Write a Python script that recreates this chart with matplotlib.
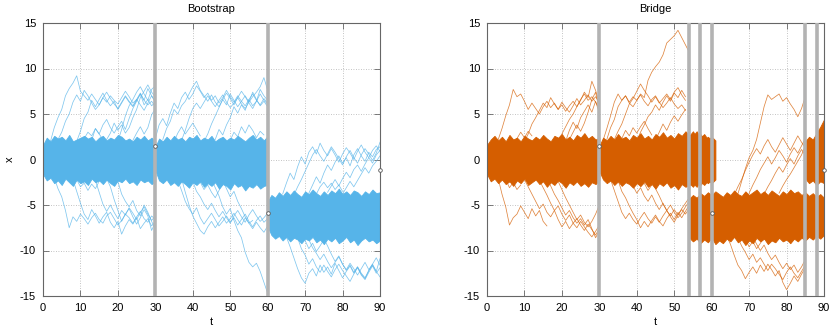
import numpy as np
import matplotlib
matplotlib.use("Agg")
import matplotlib.pyplot as plt

plt.rcParams['font.family'] = ['Liberation Sans', 'DejaVu Sans']
plt.rcParams['axes.unicode_minus'] = False

# colours
c_boot = '#56B4E9'
c_bridge = '#D55E00'

# observations and resampling times
obs_t = [30, 60, 90]
obs_x = [1.5, -5.9, -1.2]
boot_resample = [30, 60]
bridge_resample = [30, 54, 57, 60, 85, 88]

# ---- Bootstrap: dense band edges (one value per unit of t) ----
boot_a_t0 = 0
boot_a_hi = [1.6, 2.4, 2.0, 2.6, 2.3, 2.5, 2.1, 2.7, 2.0, 2.2, 2.4, 2.6, 2.3, 2.5, 2.0, 2.4,
             2.6, 2.1, 2.4, 2.2, 2.7, 2.5, 2.1, 2.3, 2.0, 2.5, 2.2, 2.6, 2.1, 2.4, 1.9]
boot_a_lo = [-1.6, -2.3, -2.0, -2.6, -2.3, -2.8, -2.1, -2.5, -2.9, -2.2, -2.6, -2.4, -2.8, -2.1,
             -2.5, -2.3, -2.7, -2.2, -2.6, -2.9, -2.3, -2.5, -2.1, -2.6, -2.4, -2.8, -2.2, -2.5,
             -2.3, -2.7, -2.4]
boot_b_t0 = 30
boot_b_hi = [1.4, 2.3, 2.0, 2.5, 2.1, 2.6, 2.2, 2.4, 2.0, 2.5, 2.3, 2.7, 2.1, 2.4, 2.2, 2.6,
             2.0, 2.3, 2.5, 2.1, 2.4, 2.2, 2.6, 2.3, 2.0, 2.4, 2.7, 2.2, 2.5, 2.1, 2.6]
boot_b_lo = [-1.2, -2.3, -2.6, -2.2, -2.8, -2.5, -2.9, -2.4, -2.7, -3.1, -2.5, -2.8, -2.4, -3.0,
             -2.6, -2.9, -2.5, -3.2, -2.7, -2.9, -3.3, -2.6, -3.0, -2.8, -3.4, -2.9, -3.1, -2.7,
             -3.2, -2.9, -2.8]
boot_c_t0 = 60
boot_c_hi = [-4.6, -3.9, -4.2, -3.6, -4.0, -3.5, -3.9, -3.4, -3.8, -4.1, -3.5, -3.8, -3.3, -3.7,
             -4.0, -3.5, -3.9, -3.4, -3.7, -3.2, -3.8, -3.5, -3.9, -3.4, -3.6, -4.0, -3.5, -3.8,
             -3.3, -3.7, -3.6]
boot_c_lo = [-7.4, -8.3, -8.7, -8.4, -8.9, -8.5, -9.0, -8.6, -8.8, -9.2, -8.7, -8.9, -8.5, -9.1,
             -8.8, -9.3, -8.7, -9.0, -8.6, -9.2, -8.9, -8.5, -9.1, -8.8, -9.4, -8.9, -8.6, -9.0,
             -8.8, -9.2, -8.9]

# ---- Bootstrap: stray particle paths ----
boot_paths_t0 = [2, 4, 9, 13, 17, 20, 11, 24,
                 3, 8, 14, 17, 20, 9,
                 30, 32, 37, 43, 46, 35, 50,
                 36, 37, 40, 45, 48, 42,
                 64, 67, 71, 76, 80, 73,
                 65, 68, 71, 75, 70]
boot_paths = [
    [2.0, 3.5, 4.6, 5.5, 7.0, 7.8, 8.4, 9.2, 7.5, 7.0, 6.5, 7.2, 6.6, 6.0, 6.8, 6.3, 7.0, 6.5,
     6.1, 6.8, 7.5, 6.9, 6.2, 6.6, 7.3, 6.5, 6.0, 6.4, 5.8],
    [2.2, 3.0, 4.2, 5.0, 6.3, 7.1, 6.4, 7.6, 7.0, 6.2, 5.5, 6.0, 6.8, 7.4, 6.7, 6.1, 5.6, 6.3,
     7.0, 6.4, 5.9, 6.6, 6.0, 5.4, 6.2, 7.0, 6.3],
    [2.0, 3.1, 4.5, 5.2, 6.5, 5.8, 6.6, 7.3, 6.5, 5.9, 6.4, 5.5, 6.2, 6.9, 6.3, 5.8, 6.5, 7.2,
     6.0, 6.6, 5.9, 6.3],
    [2.1, 3.4, 2.8, 3.8, 4.4, 3.5, 2.9, 3.6, 4.2, 3.3, 4.5, 5.6, 6.4, 7.2, 6.5, 7.8, 7.0, 6.4],
    [2.2, 2.9, 4.0, 3.2, 3.8, 2.9, 3.5, 4.6, 5.5, 6.8, 7.5, 8.2, 7.4, 6.9],
    [2.0, 3.3, 4.8, 5.9, 6.6, 7.4, 8.0, 7.2, 6.5, 7.7, 8.1],
    [2.3, 3.0, 2.6, 3.4, 2.8, 2.2],
    [2.1, 2.9, 3.6, 2.8, 3.5, 4.9, 5.6],
    [-2.0, -3.2, -4.1, -5.6, -7.5, -6.3, -6.8, -6.0, -6.5, -7.1, -6.4, -5.9, -6.6, -7.0, -6.2,
     -5.8, -6.5, -7.2, -6.7, -6.0, -6.4, -7.0, -6.3, -5.7, -6.5, -6.9, -6.2, -6.6],
    [-2.2, -3.5, -4.8, -6.0, -6.6, -5.5, -6.2, -7.0, -6.3, -5.8, -6.9, -7.5, -6.8, -8.2, -7.3,
     -6.6, -7.1, -6.4, -7.6, -7.0, -6.5, -7.3, -6.8],
    [-2.3, -3.6, -4.9, -5.7, -5.0, -5.8, -6.5, -5.6, -6.1, -5.3, -5.9, -6.6, -5.8, -5.2, -6.0,
     -6.7, -6.2],
    [-2.1, -3.0, -4.4, -5.6, -6.8, -6.0, -5.4, -6.3, -7.1, -6.4, -5.5, -6.2, -7.8, -6.9],
    [-2.4, -3.8, -4.6, -5.2, -4.5, -5.6, -6.2, -5.0, -5.8, -6.8, -7.6],
    [-2.2, -3.0, -2.6, -3.4, -2.7, -3.2, -2.4],
    [2.3, 3.8, 4.5, 3.7, 5.1, 6.2, 5.6, 6.8, 7.4, 6.6, 7.2, 8.1, 7.5, 6.8, 7.3, 6.5, 7.0, 6.2,
     6.8, 7.6, 6.9, 6.3, 7.0, 6.4, 5.9, 6.6, 7.2, 6.5, 6.0, 6.7, 6.2],
    [2.2, 3.4, 4.2, 5.5, 5.0, 5.9, 6.4, 7.2, 8.0, 8.6, 7.6, 7.0, 6.4, 7.1, 6.3, 5.8, 6.6, 7.3,
     6.7, 6.0, 6.8, 7.5, 6.9, 6.2, 5.6, 6.4, 7.2, 6.5, 6.1],
    [2.1, 3.2, 4.5, 5.6, 6.2, 5.6, 6.3, 7.0, 6.4, 5.8, 6.5, 7.1, 6.3, 5.7, 6.2, 6.8, 6.1, 5.6,
     6.3, 7.4, 6.6, 5.9, 6.4, 5.8],
    [2.0, 2.8, 3.9, 4.8, 5.7, 6.6, 6.0, 7.2, 6.5, 5.8, 6.4, 7.0, 6.3, 6.9, 7.4, 8.0, 9.0, 7.6],
    [2.2, 3.3, 2.7, 3.8, 4.6, 5.8, 5.1, 6.0, 5.4, 6.6, 5.9, 6.4, 7.7, 7.0, 6.5],
    [2.0, 2.9, 3.6, 2.8, 3.4, 4.0, 3.3, 2.6],
    [2.1, 3.0, 2.5, 3.6, 2.9, 3.8, 3.2, 2.4, 3.1, 2.7],
    [-2.3, -3.4, -4.6, -5.4, -6.0, -5.3, -6.4, -7.1, -6.5, -5.9, -6.6, -7.3, -6.8, -6.2, -6.9,
     -6.4, -7.2, -6.6, -6.0, -6.8, -7.4, -6.7, -6.2, -6.9, -6.5],
    [-2.1, -3.6, -5.0, -6.2, -7.0, -7.8, -8.2, -7.4, -6.8, -7.5, -6.9, -6.3, -7.0, -6.5, -5.9,
     -6.6, -7.2, -6.4, -7.0, -6.7],
    [-2.4, -3.5, -4.1, -4.9, -5.5, -4.8, -5.6, -6.3, -5.7, -6.4, -7.0, -6.2, -5.6, -6.3, -6.9,
     -6.1, -5.5, -6.2, -6.8, -6.4, -5.9],
    [-2.2, -3.1, -4.0, -5.2, -6.0, -5.4, -6.7, -7.8, -8.6, -10.2, -11.3, -11.8, -11.4, -12.3,
     -13.5, -14.7],
    [-2.3, -3.2, -4.1, -3.5, -4.6, -5.4, -6.3, -7.0, -7.6, -6.9, -7.5, -8.0, -7.3],
    [-2.5, -3.3, -2.8, -3.6, -4.2, -3.4, -2.7],
    [-3.8, -2.6, -1.5, -2.2, -0.8, 0.3, -0.5, 0.8, 1.4, 0.6, 1.8, 1.0, 0.4, 1.2, 0.5, -0.3,
     0.6, 1.3, 0.7, 0.0, 0.9, 1.6, 0.8, 0.2, 1.0, 1.5, 0.9],
    [-3.9, -3.0, -2.2, -1.3, -0.4, 0.5, 1.1, 0.4, -0.2, 0.6, 1.4, 0.8, 0.1, -0.6, 0.3, 1.0,
     0.2, -0.4, 0.5, 1.2, 0.6, -0.1, 0.7, 1.9],
    [-3.7, -2.8, -1.9, -2.6, -1.5, -0.6, -1.2, -0.3, 0.4, -0.4, 0.2, -0.7, 0.5, 1.2, 0.4, -0.2,
     0.8, 0.3, 1.1, 1.4],
    [-3.6, -2.9, -2.2, -2.9, -2.1, -1.4, -2.0, -1.1, -0.6, -1.3, -0.5, 0.2, -0.4, 0.5, 1.0],
    [-3.8, -3.1, -2.4, -3.0, -2.3, -1.6, -0.9, -1.5, -0.7, -0.2, 0.4],
    [-3.8, -3.0, -2.5, -3.1, -2.6, -3.3, -2.8, -3.5],
    [-8.5, -9.6, -10.8, -12.0, -13.0, -13.6, -12.5, -12.0, -12.8, -11.6, -12.4, -11.8, -12.6,
     -11.4, -12.2, -13.0, -12.3, -11.7, -12.5, -11.8, -12.6, -13.1, -12.2, -11.5, -12.3, -12.9],
    [-8.6, -9.8, -10.5, -11.5, -10.9, -11.8, -12.4, -11.6, -12.3, -12.9, -12.1, -11.5, -12.2,
     -12.8, -13.4, -12.6, -11.9, -12.7, -13.2, -12.4, -11.7, -12.5, -11.9],
    [-8.8, -9.7, -10.3, -11.0, -10.4, -11.2, -11.9, -11.3, -10.7, -11.5, -12.2, -11.6, -12.4,
     -11.8, -12.5, -13.0, -12.2, -11.6, -12.3, -10.9],
    [-8.7, -9.5, -10.4, -11.2, -10.6, -11.5, -12.1, -11.4, -12.0, -12.7, -12.0, -11.3, -12.1,
     -11.5, -10.8, -11.6],
    [-8.9, -9.8, -9.2, -10.1, -9.5, -8.8],
]

# ---- Bridge: dense band edges ----
br_a_t0 = 0
br_a_hi = [1.6, 2.2, 2.6, 2.1, 2.5, 2.0, 2.7, 2.2, 2.4, 2.0, 2.6, 2.3, 2.1, 2.5, 2.2, 2.7,
           2.3, 2.0, 2.6, 2.4, 2.8, 2.2, 2.5, 2.1, 2.7, 2.4, 2.9, 2.3, 2.6, 2.2, 2.4]
br_a_lo = [-1.6, -2.4, -2.1, -2.6, -2.2, -2.7, -2.4, -2.9, -2.3, -2.6, -2.1, -2.8, -2.5, -2.2,
           -2.7, -2.4, -3.0, -2.5, -2.8, -2.3, -2.6, -3.1, -2.5, -2.8, -2.4, -2.9, -2.6, -3.0,
           -2.5, -2.7, -2.3]
br_b_t0 = 30
br_b_hi = [1.5, 2.4, 2.1, 2.6, 2.2, 2.8, 2.3, 2.5, 2.1, 2.7, 2.4, 2.9, 2.3, 2.6, 2.2, 2.8,
           2.5, 3.0, 2.4, 2.7, 2.3, 2.9, 2.6, 3.1, 2.7, 2.6, 3.1, 2.4, 2.8, 2.2, 2.5, 2.1]
br_b_lo = [-1.3, -2.2, -2.6, -2.3, -2.8, -2.4, -2.9, -2.5, -2.7, -3.1, -2.6, -2.9, -2.4, -3.0,
           -2.7, -3.2, -2.6, -2.9, -2.5, -3.1, -2.8, -3.3, -2.7, -3.0, -2.8, -2.6, -3.0, -2.4,
           -2.8, -2.3, -2.6, -2.2]
br_c_t0 = 54
br_c_hi = [-4.3, -3.9, -4.2, -3.7, -4.0, -3.6, -3.9, -3.5, -3.8, -4.1, -3.6, -3.9, -3.4, -3.8,
           -4.0, -3.5, -3.9, -3.6, -3.3, -3.8, -3.5, -3.9, -3.4, -3.7, -4.0, -3.5, -3.8, -3.3,
           -3.7, -3.5, -3.9, -3.6, -4.0, -3.7, -4.1, -3.8, -4.2]
br_c_lo = [-8.6, -9.0, -8.7, -9.2, -8.8, -9.1, -8.6, -9.3, -8.9, -9.2, -8.7, -9.0, -8.5, -9.1,
           -8.8, -9.4, -8.9, -9.2, -8.6, -9.0, -8.7, -9.3, -8.9, -9.1, -8.6, -9.0, -8.8, -9.2,
           -8.7, -9.0, -8.6, -8.9, -8.5, -8.8, -8.4, -8.7, -8.3]
br_d_t0 = 85
br_d_hi = [2.0, 2.5, 2.2, 2.9, 3.6, 4.4]
br_d_lo = [-2.1, -2.6, -2.3, -2.8, -2.4, -2.6]

# ---- Bridge: stray particle paths ----
br_paths_t0 = [3, 10, 19, 21, 22, 8,
               3, 10, 14, 16, 19, 5,
               31, 34, 32, 40, 45, 36,
               33, 35, 38, 44, 40,
               67, 66, 70, 74, 78,
               64, 67, 71, 69]
br_paths = [
    [2.2, 3.4, 4.8, 6.0, 7.7, 6.9, 7.2, 6.4, 5.5, 6.2, 5.6, 5.0, 5.8, 6.4, 5.7, 6.2, 5.5, 6.0,
     5.3, 5.9, 6.4, 5.8, 6.6, 7.2, 6.5, 6.9, 6.3, 5.6],
    [2.0, 2.8, 3.9, 4.6, 5.4, 6.2, 5.7, 6.8, 6.1, 5.5, 6.3, 5.7, 5.2, 5.9, 6.7, 6.0, 6.5, 7.1,
     6.4, 6.9, 6.3],
    [2.1, 2.8, 3.6, 4.4, 5.0, 5.8, 6.5, 7.4, 6.8, 8.6, 7.6, 6.2],
    [2.0, 3.2, 4.1, 3.4, 4.6, 5.3, 6.0, 5.2, 6.4, 5.1],
    [2.2, 3.0, 3.8, 3.1, 4.0, 5.2, 6.6, 7.4, 5.4],
    [2.3, 3.0, 2.4, 3.1, 2.6],
    [-2.1, -3.8, -5.2, -7.2, -6.4, -6.0, -5.1, -5.8, -6.5, -5.4, -6.2, -5.6, -6.8, -7.3],
    [-2.2, -3.0, -3.8, -4.6, -5.4, -4.9, -5.8, -6.3, -5.6, -6.6, -7.4, -6.8, -7.6, -7.0, -6.5,
     -7.2, -7.8, -7.1, -7.7, -8.3, -7.6],
    [-2.3, -3.1, -3.9, -4.8, -5.6, -5.1, -6.0, -6.7, -6.1, -7.0, -7.5, -6.8, -7.4, -8.0, -8.5,
     -7.9, -7.2],
    [-2.0, -2.9, -3.8, -4.5, -5.3, -6.1, -5.6, -6.4, -7.0, -6.5, -7.2, -6.6, -7.6, -8.6, -7.8],
    [-2.4, -3.3, -4.2, -5.0, -5.8, -6.6, -6.1, -6.9, -7.4, -6.8, -6.0, -5.0],
    [-2.2, -3.1, -2.5, -3.3, -2.8],
    [2.1, 3.4, 4.8, 6.3, 7.2, 6.5, 7.0, 6.2, 5.8, 6.5, 7.1, 6.4, 5.9, 6.6, 7.0, 6.3, 5.7, 6.2,
     6.8, 6.1, 5.6, 6.0, 5.4],
    [2.2, 3.1, 3.9, 5.0, 6.1, 6.7, 7.5, 8.3, 7.6, 7.0, 6.3, 6.9, 6.2, 6.7, 7.2, 6.6, 7.4, 7.9,
     7.1, 6.5],
    [2.2, 3.5, 4.4, 5.8, 6.5, 7.0, 6.3, 6.9, 6.5, 7.2, 6.8, 8.7, 9.6, 10.2, 10.7, 11.5, 12.8,
     13.2, 13.6, 14.2, 13.4, 12.6, 11.8],
    [2.0, 3.0, 3.8, 4.7, 5.2, 6.0, 5.4, 6.3, 7.0, 6.4, 7.3, 6.8, 7.6, 6.9],
    [2.2, 3.0, 3.9, 3.2, 4.1, 4.8, 4.2, 4.9, 5.5],
    [2.3, 3.2, 2.6, 3.5, 2.9, 3.6, 4.2, 3.4, 2.7],
    [-2.2, -3.4, -4.6, -5.8, -6.5, -5.9, -6.6, -7.1, -6.4, -5.8, -6.5, -7.0, -6.3, -6.9, -6.2,
     -5.6, -6.3, -6.9, -6.1, -5.5, -6.0, -5.4],
    [-2.3, -3.5, -4.2, -5.1, -5.9, -6.6, -7.5, -6.8, -7.4, -6.7, -6.1, -6.8, -7.3, -6.5, -5.9,
     -6.6, -5.8, -6.4, -5.7, -5.0],
    [-2.1, -2.9, -3.7, -3.1, -4.0, -4.6, -3.9, -4.8, -5.5, -4.8, -5.6, -6.2, -5.5, -6.1, -5.4,
     -4.8, -4.2],
    [-2.4, -3.2, -4.0, -4.9, -5.6, -5.0, -5.8, -6.4, -5.9, -5.2, -4.6],
    [-2.2, -3.0, -2.6, -3.4, -2.8],
    [-3.8, -2.4, -1.0, 0.2, 1.0, 2.2, 4.0, 5.8, 7.1, 6.6, 6.9, 7.2, 6.4, 6.8, 6.1, 5.5, 4.7,
     5.6, 6.9],
    [-3.9, -3.0, -2.2, -1.2, -0.3, 0.5, 1.2, 0.6, 1.5, 2.2, 1.4, 0.8, 1.6, 2.4, 1.7, 1.0, 1.8,
     2.6, 1.9, 1.3],
    [-3.7, -2.8, -2.0, -1.1, -0.4, 0.3, -0.5, 0.2, 1.0, 0.4, -0.3, 0.6, 1.3, 0.7, 1.5, 2.3],
    [-3.8, -3.0, -2.3, -1.5, -0.8, -1.4, -0.6, 0.1, -0.5, 0.4, 1.1, 0.5],
    [-3.7, -2.9, -2.2, -1.6, -0.9, -0.2, 0.5, 1.5],
    [-8.4, -9.3, -10.5, -11.6, -12.2, -13.1, -12.4, -11.8, -12.5, -11.6, -12.3, -11.5, -12.1,
     -12.8, -12.2, -13.5, -14.3, -13.6, -12.8, -13.4, -12.6, -11.9],
    [-8.6, -9.5, -10.2, -11.0, -10.4, -11.3, -10.8, -11.5, -12.2, -11.5, -12.0, -12.6, -13.2,
     -12.4, -11.8, -12.5, -13.0, -12.3, -11.6],
    [-8.5, -9.3, -10.0, -9.4, -10.3, -11.0, -10.5, -11.3, -12.0, -11.4, -12.1, -11.6, -12.4,
     -11.8, -11.0],
    [-8.7, -9.6, -9.0, -9.8, -9.2, -8.6],
]

# upper cluster of the bridge between 54 and 60
br_e_t0 = 54
br_e_hi = [2.6, 3.1, 2.4, 2.8, 2.2, 2.5, 2.1]
br_e_lo = [-2.6, -3.0, -2.4, -2.8, -2.3, -2.6, -2.2]


def band(ax, t0, hi, lo, color):
    t = t0 + np.arange(len(hi))
    ax.fill_between(t, lo, hi, color=color, lw=0.6, edgecolor=color, zorder=2)


def strays(ax, starts, paths, color):
    for t0, xs in zip(starts, paths):
        t = t0 + np.arange(len(xs))
        ax.plot(t, xs, color=color, lw=0.55, alpha=0.75, zorder=2)


def style(ax, title, resample):
    for tr in resample:
        ax.axvline(tr, color='#b3b3b3', lw=2.6, zorder=4)
    ax.plot(obs_t, obs_x, 'o', ms=2.6, mfc='white', mec='#555555', mew=0.6,
            zorder=5, clip_on=False)
    ax.set_xlim(0, 90)
    ax.set_ylim(-15, 15)
    ax.set_xticks(np.arange(0, 91, 10))
    ax.set_yticks(np.arange(-15, 16, 5))
    ax.grid(True, color='#b0b0b0', ls=(0, (1, 2)), lw=0.6, zorder=0)
    ax.set_axisbelow(True)
    ax.tick_params(direction='in', top=True, right=True, length=4, width=0.6,
                   color='#666666', labelsize=8, pad=5)
    for s in ax.spines.values():
        s.set_color('#666666')
        s.set_linewidth(0.8)
    ax.set_title(title, fontsize=8, pad=8)
    ax.set_xlabel('t', fontsize=8, labelpad=3)


fig = plt.figure(figsize=(8.3, 3.3), dpi=100)
ax1 = fig.add_axes([43 / 830, 34 / 330, 337 / 830, 273 / 330])
ax2 = fig.add_axes([487 / 830, 34 / 330, 337 / 830, 273 / 330])

band(ax1, boot_a_t0, boot_a_hi, boot_a_lo, c_boot)
band(ax1, boot_b_t0, boot_b_hi, boot_b_lo, c_boot)
band(ax1, boot_c_t0, boot_c_hi, boot_c_lo, c_boot)
strays(ax1, boot_paths_t0, boot_paths, c_boot)
style(ax1, 'Bootstrap', boot_resample)
ax1.set_ylabel('x', fontsize=8, labelpad=4)

band(ax2, br_a_t0, br_a_hi, br_a_lo, c_bridge)
band(ax2, br_b_t0, br_b_hi, br_b_lo, c_bridge)
band(ax2, br_c_t0, br_c_hi, br_c_lo, c_bridge)
band(ax2, br_d_t0, br_d_hi, br_d_lo, c_bridge)
band(ax2, br_e_t0, br_e_hi, br_e_lo, c_bridge)
strays(ax2, br_paths_t0, br_paths, c_bridge)
style(ax2, 'Bridge', bridge_resample)

fig.savefig('out.png', dpi=100)
